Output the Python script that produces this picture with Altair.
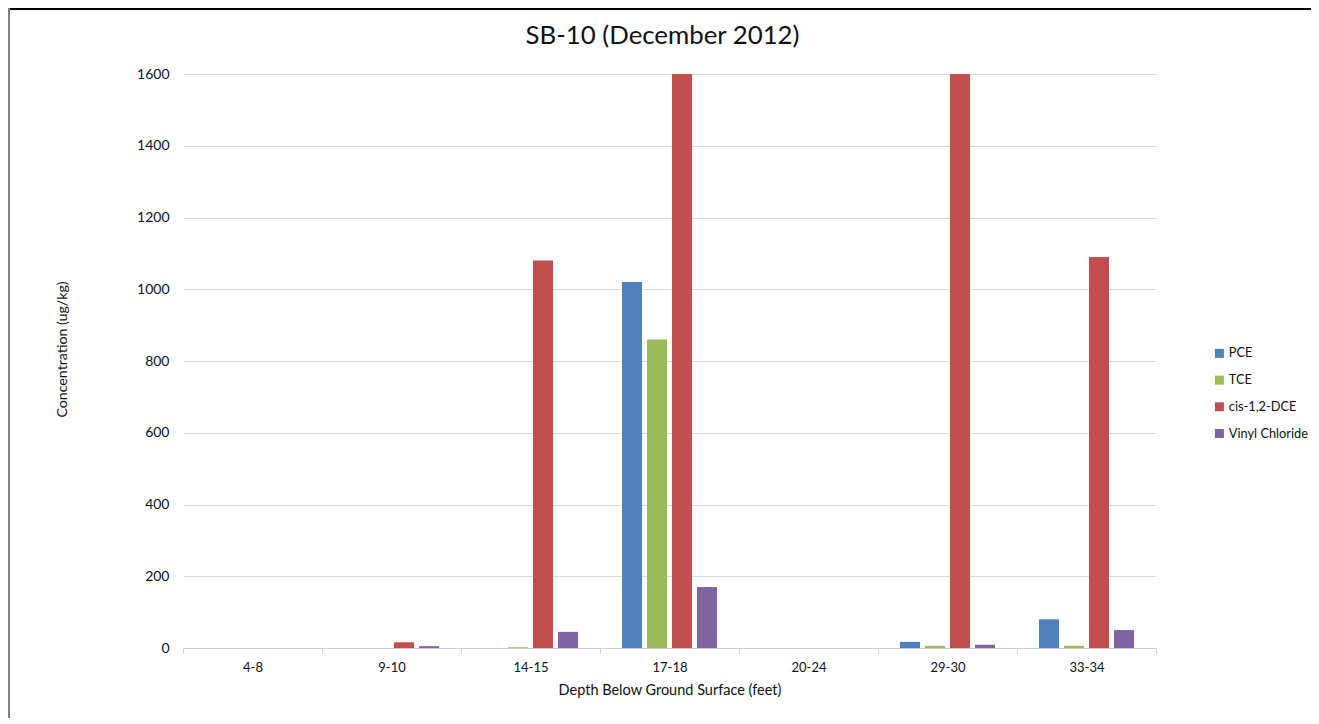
import altair as alt
import pandas as pd

depths = ["4-8", "9-10", "14-15", "17-18", "20-24", "29-30", "33-34"]
series = ["PCE", "TCE", "cis-1,2-DCE", "Vinyl Chloride"]
pce = [0, 0, 0, 1020, 0, 17, 80]
tce = [0, 0, 2, 860, 0, 6, 6]
cis_dce = [0, 16, 1080, 1600, 0, 1600, 1090]
vinyl = [0, 5, 45, 170, 0, 9, 50]
colors = ["#4F81BD", "#9BBB59", "#C0504D", "#8064A2"]

rows = []
for name, vals in zip(series, [pce, tce, cis_dce, vinyl]):
    for d, v in zip(depths, vals):
        rows.append({"Depth": d, "Compound": name, "Value": v})
df = pd.DataFrame(rows)

FONT = "Lato"

bars = alt.Chart(df).mark_bar(clip=True).encode(
    x=alt.X("Depth:N", sort=depths,
            scale=alt.Scale(paddingInner=0, paddingOuter=0),
            axis=alt.Axis(title="Depth Below Ground Surface (feet)", labelAngle=0,
                          tickBand="extent", tickSize=5, tickColor="#d0d0d0",
                          domainColor="#d0d0d0", labelPadding=8, titlePadding=9,
                          labelFontSize=13, titleFontSize=14.5, labelColor="#111",
                          titleColor="#111", titleFontWeight="normal", grid=False,
                          labelFont=FONT, titleFont=FONT)),
    xOffset=alt.XOffset("Compound:N", sort=series,
                        scale=alt.Scale(paddingInner=0.2, paddingOuter=0.88)),
    y=alt.Y("Value:Q", scale=alt.Scale(domain=[0, 1600], nice=False),
            axis=alt.Axis(title="Concentration (ug/kg)", values=list(range(0, 1601, 200)),
                          format="d", domain=False, ticks=False, labelPadding=14,
                          gridColor="#d9d9d9", labelFontSize=14, titleFontSize=14.2,
                          labelColor="#111", titleColor="#111", titleFontWeight="normal",
                          titleX=-121, titleY=275, titleAngle=-90, titleAlign="center",
                          titleBaseline="middle", labelFont=FONT, titleFont=FONT)),
    color=alt.Color("Compound:N", sort=series,
                    scale=alt.Scale(domain=series, range=colors),
                    legend=alt.Legend(title=None, orient="none", legendX=1030, legendY=273,
                                      symbolType="square", symbolSize=81,
                                      symbolStrokeWidth=0, rowPadding=12.7,
                                      labelFontSize=12.8, labelFont=FONT,
                                      labelColor="#111", labelOffset=3)),
)

frame_df = pd.DataFrame({"k": [0]})
top_line = alt.Chart(frame_df).mark_rule(color="#000", strokeWidth=2).encode(
    x=alt.value(-175), x2=alt.value(1140), y=alt.value(-65), y2=alt.value(-65))
left_line = alt.Chart(frame_df).mark_rule(color="#808080", strokeWidth=2).encode(
    x=alt.value(-174), x2=alt.value(-174), y=alt.value(-66), y2=alt.value(660))

chart = alt.layer(bars, top_line, left_line).properties(
    width=973, height=574,
    title=alt.TitleParams("SB-10 (December 2012)", fontSize=25.8, font=FONT,
                          fontWeight="normal", color="#111", offset=0, dy=43, dx=-7,
                          anchor="middle"),
    autosize=alt.AutoSizeParams(type="none"),
    padding={"left": 175, "top": 66, "right": 155, "bottom": 70},
).configure_view(stroke=None)

chart.save("out.html", embed_options={"renderer": "svg", "actions": False})
